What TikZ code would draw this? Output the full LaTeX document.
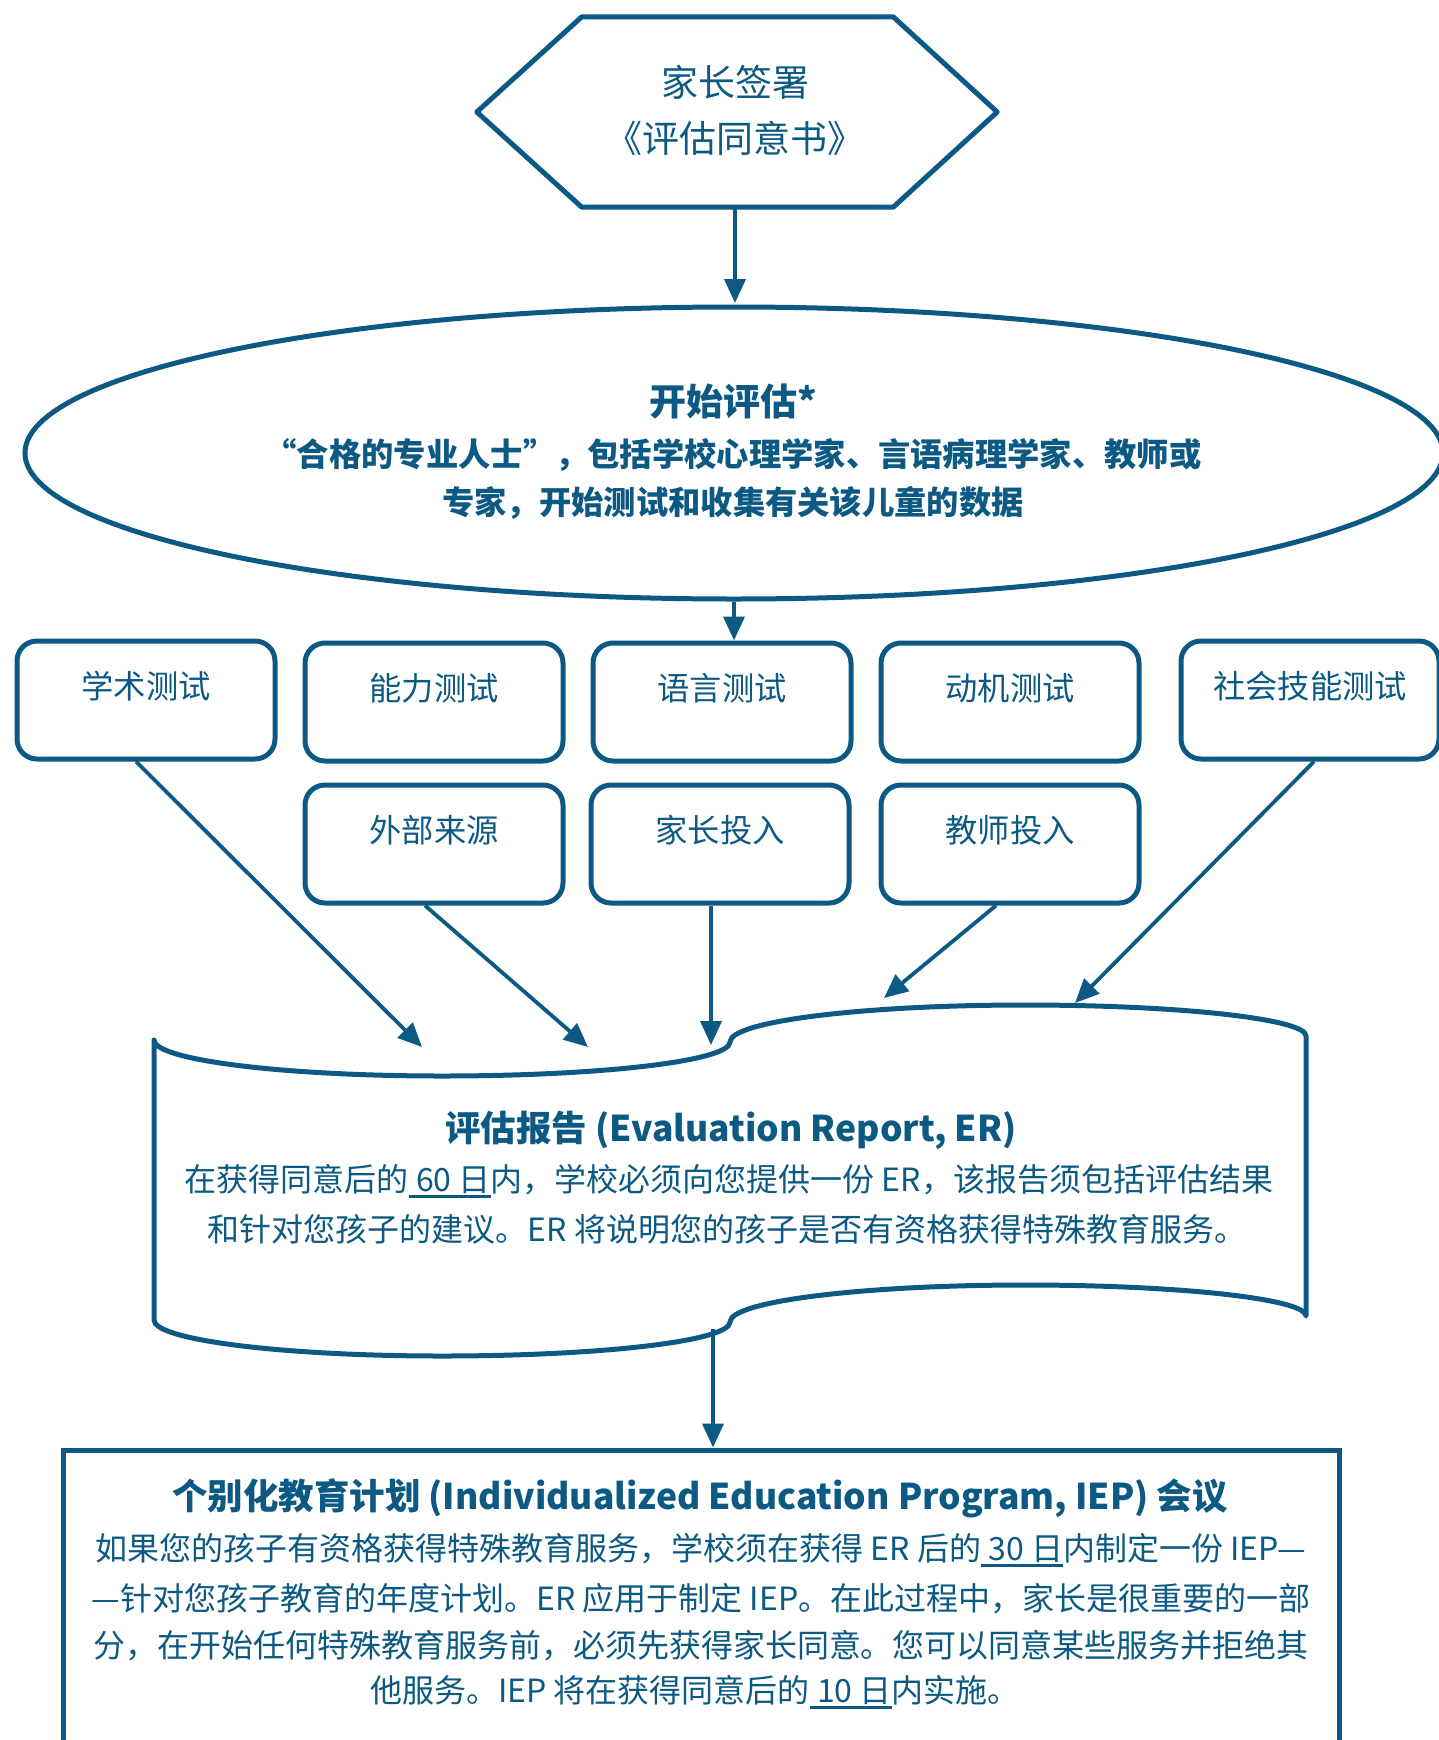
\documentclass[tikz,border=0pt]{standalone}
\usepackage{fontspec}
\setmainfont{Noto Sans CJK SC}
\newcommand{\myul}[1]{\setbox0\hbox{#1}\rlap{\rule[-6pt]{\wd0}{2.2pt}}\box0}
\usetikzlibrary{arrows.meta,shapes.geometric,calc}
\definecolor{ink}{HTML}{0C5A83}
\begin{document}
\begin{tikzpicture}[x=1pt,y=-1pt,
  shapeline/.style={draw=ink, line width=5pt},
  arr/.style={draw=ink, line width=3.8pt, -{Triangle[length=24pt,width=21pt]}},
  tbox/.style={shapeline, rounded corners=20pt, minimum width=258pt, minimum height=118pt, inner sep=0pt},
  lbl/.style={text=ink, font=\fontsize{32.3}{38}\selectfont, inner sep=0pt},
  body/.style={text=ink, font=\fontsize{32}{38}\selectfont, inner sep=0pt},
  bodyb/.style={text=ink, font=\fontsize{32.3}{38}\selectfont\bfseries, inner sep=0pt},
  titleb/.style={text=ink, font=\fontsize{35.5}{42}\selectfont\bfseries, inner sep=0pt},
  hextxt/.style={text=ink, font=\fontsize{37}{44}\selectfont, inner sep=0pt}
]
\useasboundingbox (0,0) rectangle (1439,1740);
\clip (0,0) rectangle (1439,1740);
\fill[white] (0,0) rectangle (1439,1740);

% hexagon
\node[minimum width=520pt, minimum height=190pt, inner sep=0pt] (hex) at (737,112) {};
\draw[shapeline, line join=round] (hex.west) -- ([xshift=105pt]hex.north west) -- ([xshift=-104pt]hex.north east)
  -- (hex.east) -- ([xshift=-104pt]hex.south east) -- ([xshift=105pt]hex.south west) -- cycle;
\node[hextxt] (hext1) at (735,82) {家长签署};
\node[hextxt] (hext2) at (735,138) {《评估同意书》};

% ellipse
\node[ellipse, shapeline, minimum width=1418pt, minimum height=292pt, inner sep=0pt] (ell) at (734,453) {};
\node[titleb, font=\fontsize{37}{44}\selectfont\bfseries] (ellt) at (733,402) {开始评估*};
\node[bodyb] (ell1) at (733,455) {“合格的专业人士”，包括学校心理学家、言语病理学家、教师或};
\node[bodyb] (ell2) at (733,503) {专家，开始测试和收集有关该儿童的数据};

% boxes row 1
\node[tbox] (b1) at (146,700) {};
\node[tbox] (b2) at (434,702) {};
\node[tbox] (b3) at (722,702) {};
\node[tbox] (b4) at (1010,702) {};
\node[tbox] (b5) at (1310,700) {};
% boxes row 2
\node[tbox] (b6) at (434,844) {};
\node[tbox] (b7) at (720,844) {};
\node[tbox] (b8) at (1010,844) {};

\node[lbl] (l1) at (146,686) {学术测试};
\node[lbl] (l2) at (434,688) {能力测试};
\node[lbl] (l3) at (722,688) {语言测试};
\node[lbl] (l4) at (1010,688) {动机测试};
\node[lbl] (l5) at (1310,686) {社会技能测试};
\node[lbl] (l6) at (434,830) {外部来源};
\node[lbl] (l7) at (720,830) {家长投入};
\node[lbl] (l8) at (1010,830) {教师投入};

% evaluation report (tape shape)
\draw[shapeline, line join=round]
  (154,1040) .. controls (154,1060) and (283,1076) .. (442,1076)
  .. controls (601,1076) and (730,1061) .. (730,1042)
  .. controls (730,1021) and (865,1005) .. (1025,1005)
  .. controls (1180,1005) and (1306,1019) .. (1306,1036)
  -- (1306,1316)
  .. controls (1306,1299) and (1180,1285) .. (1025,1285)
  .. controls (865,1285) and (730,1301) .. (730,1322)
  .. controls (730,1341) and (601,1356) .. (442,1356)
  .. controls (283,1356) and (154,1340) .. (154,1320) -- cycle;
\node[titleb] (ert) at (731,1130) {评估报告 (Evaluation Report, ER)};
\node[body] (er1) at (729,1181) {在获得同意后的\myul{ 60 日}内，学校必须向您提供一份 ER，该报告须包括评估结果};
\node[body] (er2) at (727,1229) {和针对您孩子的建议。ER 将说明您的孩子是否有资格获得特殊教育服务。};

\coordinate (in1) at (422,1047);
\coordinate (in2) at (588,1047);
\coordinate (in3) at (711,1045);
\coordinate (in4) at (884,998);
\coordinate (in5) at (1075,1003);
\coordinate (erout) at (713,1329);

% IEP box
\node[shapeline, minimum width=1276pt, minimum height=340pt, inner sep=0pt] (iep) at (701,1620) {};
\node[titleb] (iept) at (700,1498) {个别化教育计划 (Individualized Education Program, IEP) 会议};
\node[body] (iep1) at (701,1550) {如果您的孩子有资格获得特殊教育服务，学校须在获得 ER 后的\myul{ 30 日}内制定一份 IEP—};
\node[body] (iep2) at (701,1599) {—针对您孩子教育的年度计划。ER 应用于制定 IEP。在此过程中，家长是很重要的一部};
\node[body] (iep3) at (701,1646) {分，在开始任何特殊教育服务前，必须先获得家长同意。您可以同意某些服务并拒绝其};
\node[body] (iep4) at (695,1692) {他服务。IEP 将在获得同意后的\myul{ 10 日}内实施。};

% connectors
\draw[arr] (hex.south -| 735,0) -- (735,303);
\draw[arr] (ell.south -| 734,0) -- (b3.north -| 734,0);
\draw[arr] ([xshift=-10pt]b1.south) -- (in1);
\draw[arr] ([xshift=-9pt]b6.south) -- (in2);
\draw[arr] ([xshift=-9pt]b7.south) -- (in3);
\draw[arr] ([xshift=-14pt]b8.south) -- (in4);
\draw[arr] ([xshift=4pt]b5.south) -- (in5);
\draw[arr] (erout) -- (iep.north -| erout);
\end{tikzpicture}
\end{document}
